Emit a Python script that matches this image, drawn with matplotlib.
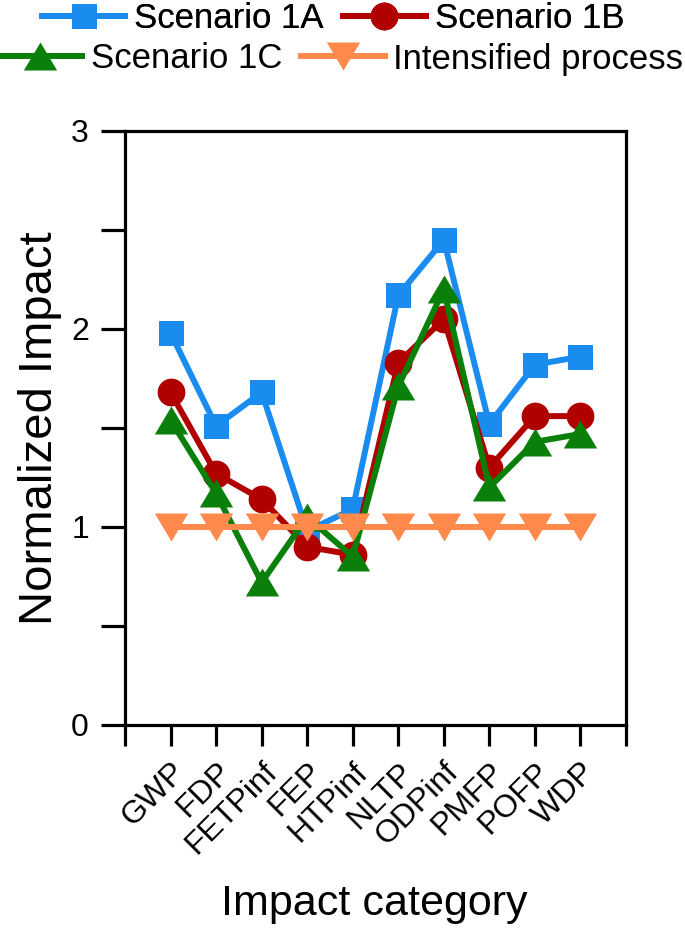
import matplotlib
matplotlib.use("Agg")
import matplotlib.pyplot as plt
import matplotlib.transforms as mtransforms

plt.rcParams['font.family'] = ['Liberation Sans', 'DejaVu Sans']

categories = ["GWP", "FDP", "FETPinf", "FEP", "HTPinf", "NLTP", "ODPinf", "PMFP", "POFP", "WDP"]
scenario_1a = [1.98, 1.51, 1.68, 0.98, 1.09, 2.17, 2.45, 1.52, 1.82, 1.86]
scenario_1b = [1.68, 1.27, 1.14, 0.90, 0.86, 1.83, 2.05, 1.30, 1.56, 1.56]
scenario_1c = [1.54, 1.17, 0.72, 1.05, 0.85, 1.71, 2.20, 1.20, 1.43, 1.47]
intensified = [1.0, 1.0, 1.0, 1.0, 1.0, 1.0, 1.0, 1.0, 1.0, 1.0]

tri_up = [(0, 0.84), (-1, -0.84), (1, -0.84), (0, 0.84)]
tri_down = [(0, -0.84), (-1, 0.84), (1, 0.84), (0, -0.84)]

series = [
    ("Scenario 1A", scenario_1a, "#1a8cf0", "s", 18),
    ("Scenario 1B", scenario_1b, "#b00000", "o", 20),
    ("Scenario 1C", scenario_1c, "#0a800a", tri_up, 24),
    ("Intensified process", intensified, "#ff8a4c", tri_down, 24),
]

fig = plt.figure(figsize=(6.85, 9.31), dpi=100)
x0, x1, ytop, ybot = 125, 626, 131, 725
ax = fig.add_axes([x0/685, 1-ybot/931, (x1-x0)/685, (ybot-ytop)/931])

x = list(range(1, len(categories) + 1))
handles = []
for name, vals, col, mk, ms in series:
    h, = ax.plot(x, vals, color=col, marker=mk, markersize=ms, linewidth=4.3,
                 markeredgewidth=0, label=name, clip_on=False)
    handles.append(h)

ax.set_xlim(0, 11)
ax.set_ylim(0, 3)
ax.set_xticks(range(0, 12))
ax.set_xticklabels([""] + categories + [""], rotation=45, ha='right',
                   va='top', rotation_mode='anchor', fontsize=23)
offset = mtransforms.ScaledTranslation(29/100, -22/100, fig.dpi_scale_trans)
for lab in ax.get_xticklabels():
    lab.set_transform(lab.get_transform() + offset)
ax.set_yticks([0, 1, 2, 3])
ax.set_yticks([0.5, 1.5, 2.5], minor=True)
ax.tick_params(axis='y', which='both', direction='out', length=17, width=2.3, labelsize=23, pad=9)
ax.tick_params(axis='x', which='both', direction='out', length=15, width=2.3, pad=8)
for sp in ax.spines.values():
    sp.set_linewidth(2.3)

fig.text(40/685, 1-428/931, "Normalized Impact", rotation=90, ha='center', va='center', fontsize=34)
fig.text(374/685, 1-915/931, "Impact category", ha='center', va='baseline', fontsize=31)

leg_kw = dict(ncol=2, frameon=False, fontsize=25, handlelength=2.4,
              columnspacing=0.55, handletextpad=0.25, borderaxespad=0, borderpad=0)
leg1 = fig.legend(handles=handles[:2], loc='center', bbox_to_anchor=(333/685, 1-19/931), **leg_kw)
fig.add_artist(leg1)
leg2 = fig.legend(handles=handles[2:], loc='center', bbox_to_anchor=(341/685, 1-59/931), **leg_kw)

fig.savefig("out.png", dpi=100)
